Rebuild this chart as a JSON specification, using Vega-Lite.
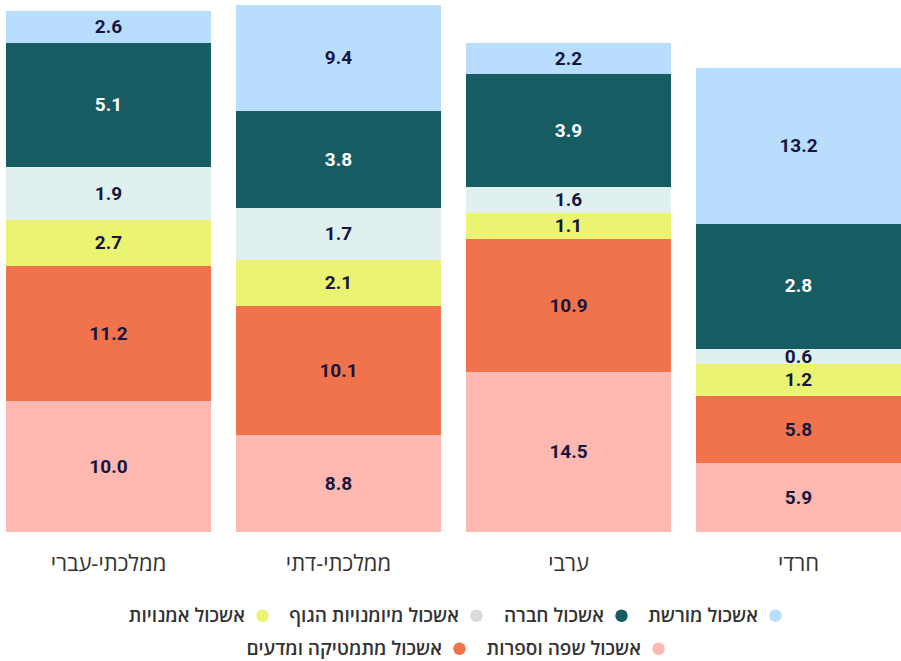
{
  "$schema": "https://vega.github.io/schema/vega-lite/v6.json",
  "width": 901,
  "height": 532,
  "padding": 0,
  "background": "white",
  "config": {"view": {"stroke": null}},
  "data": {
    "values": [
      {"sector": "ממלכתי-עברי", "cluster": "אשכול שפה וספרות", "share": 131, "label": "10.0"},
      {"sector": "ממלכתי-עברי", "cluster": "אשכול מתמטיקה ומדעים", "share": 135, "label": "11.2"},
      {"sector": "ממלכתי-עברי", "cluster": "אשכול אמנויות", "share": 46, "label": "2.7"},
      {"sector": "ממלכתי-עברי", "cluster": "אשכול מיומנויות הגוף", "share": 53, "label": "1.9"},
      {"sector": "ממלכתי-עברי", "cluster": "אשכול חברה", "share": 124, "label": "5.1"},
      {"sector": "ממלכתי-עברי", "cluster": "אשכול מורשת", "share": 32, "label": "2.6"},
      {"sector": "ממלכתי-דתי", "cluster": "אשכול שפה וספרות", "share": 97, "label": "8.8"},
      {"sector": "ממלכתי-דתי", "cluster": "אשכול מתמטיקה ומדעים", "share": 129, "label": "10.1"},
      {"sector": "ממלכתי-דתי", "cluster": "אשכול אמנויות", "share": 46, "label": "2.1"},
      {"sector": "ממלכתי-דתי", "cluster": "אשכול מיומנויות הגוף", "share": 52, "label": "1.7"},
      {"sector": "ממלכתי-דתי", "cluster": "אשכול חברה", "share": 97, "label": "3.8"},
      {"sector": "ממלכתי-דתי", "cluster": "אשכול מורשת", "share": 106, "label": "9.4"},
      {"sector": "ערבי", "cluster": "אשכול שפה וספרות", "share": 160, "label": "14.5"},
      {"sector": "ערבי", "cluster": "אשכול מתמטיקה ומדעים", "share": 133, "label": "10.9"},
      {"sector": "ערבי", "cluster": "אשכול אמנויות", "share": 26, "label": "1.1"},
      {"sector": "ערבי", "cluster": "אשכול מיומנויות הגוף", "share": 26, "label": "1.6"},
      {"sector": "ערבי", "cluster": "אשכול חברה", "share": 113, "label": "3.9"},
      {"sector": "ערבי", "cluster": "אשכול מורשת", "share": 31, "label": "2.2"},
      {"sector": "חרדי", "cluster": "אשכול שפה וספרות", "share": 69, "label": "5.9"},
      {"sector": "חרדי", "cluster": "אשכול מתמטיקה ומדעים", "share": 67, "label": "5.8"},
      {"sector": "חרדי", "cluster": "אשכול אמנויות", "share": 32, "label": "1.2"},
      {"sector": "חרדי", "cluster": "אשכול מיומנויות הגוף", "share": 15, "label": "0.6"},
      {"sector": "חרדי", "cluster": "אשכול חברה", "share": 125.3, "label": "2.8"},
      {"sector": "חרדי", "cluster": "אשכול מורשת", "share": 155.7, "label": "13.2"}
    ]
  },
  "transform": [
    {"calculate": "indexof(['אשכול שפה וספרות','אשכול מתמטיקה ומדעים','אשכול אמנויות','אשכול מיומנויות הגוף','אשכול חברה','אשכול מורשת'], datum.cluster)", "as": "ord"},
    {"stack": "share", "groupby": ["sector"], "sort": [{"field": "ord", "order": "ascending"}], "as": ["y0", "y1"]},
    {"calculate": "(datum.y0 + datum.y1) / 2", "as": "ymid"}
  ],
  "encoding": {
    "x": {
      "field": "sector",
      "type": "nominal",
      "sort": ["ממלכתי-עברי", "ממלכתי-דתי", "ערבי", "חרדי"],
      "scale": {"paddingInner": 0.1087, "paddingOuter": 0.013, "align": 1},
      "axis": {
        "title": null,
        "domain": false,
        "ticks": false,
        "labelAngle": 0,
        "labelFont": "Open Sans",
        "labelFontSize": 22,
        "labelColor": "#333333",
        "labelPadding": 21
      }
    }
  },
  "layer": [
    {
      "transform": [{"filter": "datum.ord >= 2"}],
      "mark": {"type": "bar"},
      "encoding": {
        "y": {"field": "y1", "type": "quantitative", "scale": {"domain": [0, 532], "nice": false}, "axis": null},
        "y2": {"field": "y1"},
        "fill": {
          "field": "cluster",
          "type": "nominal",
          "scale": {
            "domain": ["אשכול אמנויות", "אשכול מיומנויות הגוף", "אשכול חברה", "אשכול מורשת"],
            "range": ["#ebf373", "#d8d9d9", "#185c63", "#b9ddfd"]
          },
          "legend": {
            "orient": "none",
            "legendX": 253,
            "legendY": 606,
            "direction": "horizontal",
            "columns": 4,
            "title": null,
            "symbolType": "circle",
            "symbolSize": 156,
            "symbolStrokeWidth": 0,
            "labelFont": "Open Sans",
            "labelFontSize": 19,
            "labelFontWeight": 600,
            "labelColor": "#333333",
            "labelAlign": "right",
            "labelOffset": -27,
            "labelLimit": 300,
            "columnPadding": 20
          }
        }
      }
    },
    {
      "mark": {"type": "bar"},
      "encoding": {
        "y": {"field": "y1", "type": "quantitative"},
        "y2": {"field": "y0"},
        "color": {
          "field": "cluster",
          "type": "nominal",
          "scale": {
            "domain": ["אשכול מתמטיקה ומדעים", "אשכול שפה וספרות", "אשכול אמנויות", "אשכול מיומנויות הגוף", "אשכול חברה", "אשכול מורשת"],
            "range": ["#f1734b", "#fdb8b1", "#ebf373", "#e0f0ef", "#185c63", "#b9ddfd"]
          },
          "legend": {
            "orient": "none",
            "legendX": 450,
            "legendY": 639,
            "direction": "horizontal",
            "columns": 2,
            "values": ["אשכול מתמטיקה ומדעים", "אשכול שפה וספרות"],
            "title": null,
            "symbolType": "circle",
            "symbolSize": 156,
            "symbolStrokeWidth": 0,
            "labelFont": "Open Sans",
            "labelFontSize": 19,
            "labelFontWeight": 600,
            "labelColor": "#333333",
            "labelAlign": "right",
            "labelOffset": -27,
            "labelLimit": 300,
            "columnPadding": 20
          }
        }
      }
    },
    {
      "mark": {"type": "text", "font": "Roboto", "fontSize": 19, "fontWeight": "bold", "baseline": "middle", "align": "center"},
      "encoding": {
        "y": {"field": "ymid", "type": "quantitative"},
        "text": {"field": "label"},
        "color": {
          "condition": {"test": "datum.cluster === 'אשכול חברה'", "value": "#ffffff"},
          "value": "#16163f"
        }
      }
    }
  ]
}
